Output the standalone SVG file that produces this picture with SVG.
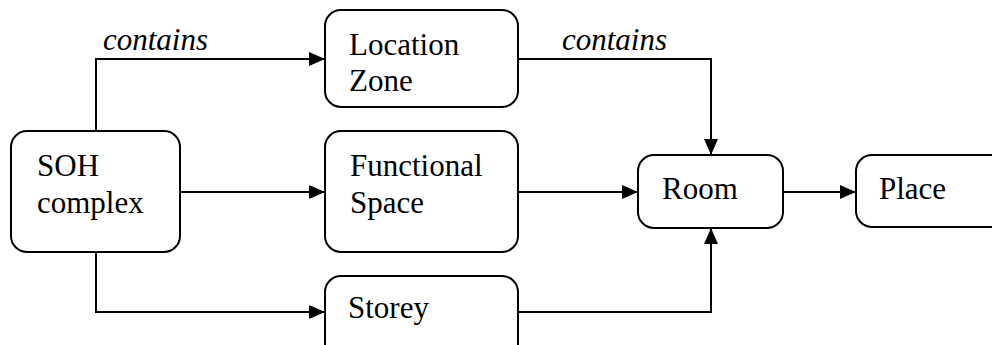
<svg xmlns="http://www.w3.org/2000/svg" width="992" height="345" viewBox="0 0 992 345">
<defs>
<style>
.box{fill:#fff;stroke:#000;stroke-width:2}
.t{font-family:'Liberation Serif','Times New Roman','DejaVu Serif',serif;font-size:31px;fill:#000}
.lbl{font-family:'Liberation Serif','Times New Roman','DejaVu Serif',serif;font-size:31px;font-style:italic;fill:#000}
.c{fill:none;stroke:#000;stroke-width:2}
</style>
<marker id="ah" viewBox="0 0 16 14" refX="16" refY="7" markerWidth="16" markerHeight="14" markerUnits="userSpaceOnUse" orient="auto">
<path d="M0,0 L16,7 L0,14 Z" fill="#000"/>
</marker>
</defs>
<rect width="992" height="345" fill="#fff"/>
<g id="connectors">
<path class="c" d="M96,131 V59 H325" marker-end="url(#ah)"/>
<path class="c" d="M180,192 H325" marker-end="url(#ah)"/>
<path class="c" d="M96,252 V312 H325" marker-end="url(#ah)"/>
<path class="c" d="M518,59 H711 V155" marker-end="url(#ah)"/>
<path class="c" d="M518,192 H638" marker-end="url(#ah)"/>
<path class="c" d="M518,312 H711 V228" marker-end="url(#ah)"/>
<path class="c" d="M783,192 H856" marker-end="url(#ah)"/>
<text class="lbl" x="103" y="50" font-family="Liberation Serif, serif">contains</text>
<text class="lbl" x="562" y="50" font-family="Liberation Serif, serif">contains</text>
</g>
<g id="soh">
<rect class="box" x="11" y="131" width="169" height="121" rx="16"/>
<text class="t" x="37" y="176" font-family="Liberation Serif, serif">SOH</text>
<text class="t" x="37" y="213" font-family="Liberation Serif, serif">complex</text>
</g>
<g id="location-zone">
<rect class="box" x="325" y="10" width="193" height="97" rx="16"/>
<text class="t" x="349" y="55" font-family="Liberation Serif, serif">Location</text>
<text class="t" x="349" y="91" font-family="Liberation Serif, serif">Zone</text>
</g>
<g id="functional-space">
<rect class="box" x="325" y="131" width="193" height="121" rx="16"/>
<text class="t" x="350" y="176" font-family="Liberation Serif, serif">Functional</text>
<text class="t" x="350" y="213" font-family="Liberation Serif, serif">Space</text>
</g>
<g id="storey">
<rect class="box" x="325" y="276" width="193" height="90" rx="16"/>
<text class="t" x="348" y="318" font-family="Liberation Serif, serif">Storey</text>
</g>
<g id="room">
<rect class="box" x="638" y="155" width="145" height="73" rx="16"/>
<text class="t" x="662" y="199" font-family="Liberation Serif, serif">Room</text>
</g>
<g id="place">
<rect class="box" x="856" y="155" width="160" height="72" rx="16"/>
<text class="t" x="879" y="199" font-family="Liberation Serif, serif">Place</text>
</g>
</svg>
